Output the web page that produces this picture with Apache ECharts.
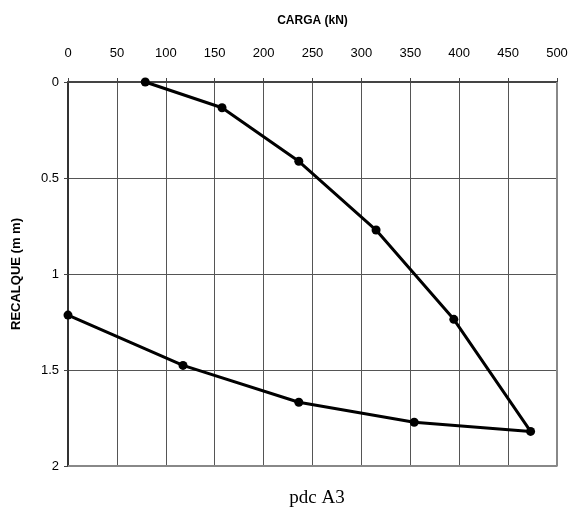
<!DOCTYPE html>
<html>
<head>
<meta charset="utf-8">
<script src="https://cdn.jsdelivr.net/npm/echarts@6/dist/echarts.min.js"></script>
<style>
  html, body { margin: 0; padding: 0; background: #fff; }
  #chart { width: 582px; height: 522px; }
</style>
</head>
<body>
<div id="chart"></div>
<script>
// carga (kN) e recalque (mm), carregamento seguido do descarregamento
const cargaCarregamento = [79, 157.5, 236, 315, 394.5, 473];
const recalqueCarregamento = [0, 0.134, 0.413, 0.771, 1.236, 1.82];
const cargaDescarregamento = [354, 236, 117.6, 0];
const recalqueDescarregamento = [1.772, 1.668, 1.476, 1.214];
const xTicks = [0, 50, 100, 150, 200, 250, 300, 350, 400, 450, 500];
const yTicks = [0, 0.5, 1, 1.5, 2];

let pontos = [];
cargaCarregamento.forEach((c, i) => pontos.push([c, recalqueCarregamento[i]]));
cargaDescarregamento.forEach((c, i) => pontos.push([c, recalqueDescarregamento[i]]));

let chart = echarts.init(document.getElementById('chart'));

let option = {
    animation: false,
    title: {
        text: 'pdc A3',
        left: 312,
        top: 484,
        textAlign: 'center',
        textStyle: {
            fontFamily: 'Liberation Serif',
            fontSize: 19,
            fontWeight: 'normal',
            color: '#000'
        }
    },
    grid: { left: 68, right: 25, top: 82, bottom: 56 },
    xAxis: {
        type: 'value',
        position: 'top',
        min: xTicks[0],
        max: xTicks[xTicks.length - 1],
        interval: 50,
        name: 'CARGA (kN)',
        nameLocation: 'middle',
        nameGap: 55,
        nameTextStyle: {
            fontFamily: 'Liberation Sans',
            fontSize: 12,
            fontWeight: 'bold',
            color: '#000'
        },
        axisLine: { show: true, lineStyle: { color: '#444', width: 2 } },
        axisTick: { show: true, inside: false, length: 4, lineStyle: { color: '#444' } },
        axisLabel: {
            margin: 22,
            fontFamily: 'Liberation Sans',
            fontSize: 13,
            color: '#000'
        },
        splitLine: { show: true, lineStyle: { color: '#555', width: 1 } }
    },
    yAxis: {
        type: 'value',
        inverse: true,
        min: yTicks[0],
        max: yTicks[yTicks.length - 1],
        interval: 0.5,
        name: 'RECALQUE (m m)',
        nameLocation: 'middle',
        nameGap: 45,
        nameRotate: 90,
        nameTextStyle: {
            fontFamily: 'Liberation Sans',
            fontSize: 13,
            fontWeight: 'bold',
            color: '#000'
        },
        axisLine: { show: true, lineStyle: { color: '#333', width: 2 } },
        axisTick: { show: true, inside: false, length: 4, lineStyle: { color: '#444' } },
        axisLabel: {
            margin: 9,
            fontFamily: 'Liberation Sans',
            fontSize: 13,
            color: '#000'
        },
        splitLine: { show: true, lineStyle: { color: '#555', width: 1 } }
    },
    series: [
        {
            type: 'line',
            data: pontos,
            symbol: 'circle',
            symbolSize: 9,
            itemStyle: { color: '#000' },
            lineStyle: { color: '#000', width: 3 }
        },
        {
            // moldura inferior e direita, cinza
            type: 'line',
            data: [[0, 2], [500, 2], [500, 0]],
            symbol: 'none',
            silent: true,
            lineStyle: { color: '#888', width: 2 },
            z: 1
        }
    ]
};

chart.setOption(option);
</script>
</body>
</html>
